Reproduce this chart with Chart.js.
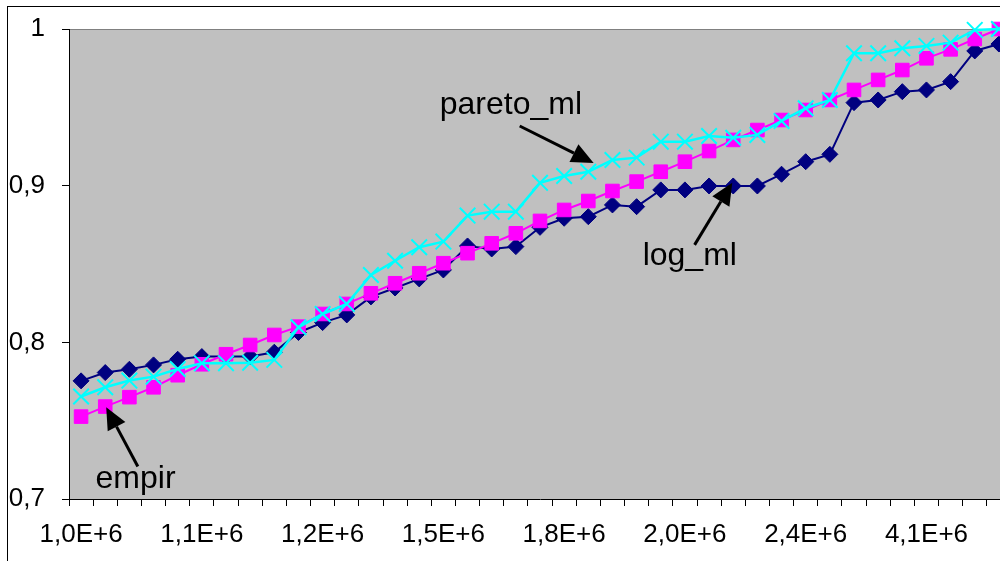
<!DOCTYPE html>
<html>
<head>
<meta charset="utf-8">
<script src="https://cdn.jsdelivr.net/npm/chart.js@4.4.1/dist/chart.umd.min.js"></script>
<style>
  html, body { margin: 0; padding: 0; background: #fff; overflow: hidden; }
  #wrap { position: relative; width: 1000px; height: 561px; overflow: hidden; }
  #frame { position: absolute; left: 7px; top: 6px; width: 1100px; height: 700px; border: 1px solid #000; }
  #chart { position: absolute; left: 0; top: 0; }
</style>
</head>
<body>
<div id="wrap">
  <div id="frame"></div>
  <canvas id="chart" width="1024" height="561"></canvas>
</div>
<script>
// x tick labels, one every 5 categories
const tickLabels = ['1,0E+6', '1,1E+6', '1,2E+6', '1,5E+6', '1,8E+6', '2,0E+6', '2,4E+6', '4,1E+6'];
const labelStep = 5;

const logMl = [0.7754, 0.7807, 0.7828, 0.7856, 0.7892, 0.7909, 0.7910, 0.7910, 0.7937, 0.8063,
  0.8126, 0.8175, 0.8290, 0.8347, 0.8405, 0.8462, 0.8615, 0.8596, 0.8611, 0.8734,
  0.8792, 0.8802, 0.8877, 0.8866, 0.8973, 0.8973, 0.8998, 0.8998, 0.8998, 0.9073,
  0.9153, 0.9200, 0.9530, 0.9547, 0.9600, 0.9611, 0.9664, 0.9860, 0.9904];

const empir = [0.7526, 0.7590, 0.7650, 0.7713, 0.7790, 0.7860, 0.7924, 0.7983, 0.8047, 0.8100,
  0.8181, 0.8245, 0.8313, 0.8377, 0.8441, 0.8505, 0.8569, 0.8632, 0.8696, 0.8775,
  0.8845, 0.8902, 0.8966, 0.9026, 0.9089, 0.9153, 0.9221, 0.9292, 0.9355, 0.9419,
  0.9483, 0.9547, 0.9611, 0.9675, 0.9738, 0.9813, 0.9870, 0.9936, 1.0000];

const paretoMl = [0.7654, 0.7713, 0.7756, 0.7781, 0.7830, 0.7867, 0.7867, 0.7870, 0.7888, 0.8096,
  0.8181, 0.8245, 0.8430, 0.8521, 0.8607, 0.8643, 0.8809, 0.8834, 0.8834, 0.9018,
  0.9062, 0.9089, 0.9164, 0.9179, 0.9281, 0.9281, 0.9317, 0.9306, 0.9324, 0.9413,
  0.9494, 0.9547, 0.9845, 0.9845, 0.9877, 0.9892, 0.9913, 0.9994, 1.0000];

const categories = empir.map((v, i) => i % labelStep === 0 ? (tickLabels[i / labelStep] || '') : '');

// annotations in data units: [category index, value]
const notes = [
  { text: 'pareto_ml', at: [14.85, 0.9458], from: [18.16, 0.9381], to: [21.22, 0.9145] },
  { text: 'log_ml', at: [23.25, 0.8494], from: [25.4, 0.8622], to: [26.96, 0.9019] },
  { text: 'empir', at: [0.6, 0.7071], from: [2.35, 0.7207], to: [1.04, 0.7586] }
];

const plotBg = {
  id: 'plotBg',
  beforeDraw(chart) {
    const { ctx, chartArea: a } = chart;
    ctx.save();
    ctx.fillStyle = '#c0c0c0';
    ctx.fillRect(a.left, a.top, a.right - a.left, a.bottom - a.top);
    ctx.strokeStyle = '#808080';
    ctx.lineWidth = 1;
    ctx.beginPath();
    ctx.moveTo(a.left, a.top + 0.5);
    ctx.lineTo(a.right, a.top + 0.5);
    ctx.stroke();
    ctx.restore();
  }
};

const arrows = {
  id: 'arrows',
  afterDatasetsDraw(chart) {
    const { ctx, scales } = chart;
    const px = p => [scales.x.getPixelForValue(p[0]), scales.y.getPixelForValue(p[1])];
    ctx.save();
    ctx.fillStyle = '#000';
    ctx.strokeStyle = '#000';
    ctx.font = '32px "Liberation Sans", Arial, sans-serif';
    ctx.textBaseline = 'alphabetic';
    notes.forEach(n => {
      const [tx, ty] = px(n.at);
      ctx.fillText(n.text, tx, ty);
      const [x1, y1] = px(n.from);
      const [x2, y2] = px(n.to);
      const ang = Math.atan2(y2 - y1, x2 - x1);
      const len = 22, half = 10;
      const bx = x2 - len * Math.cos(ang), by = y2 - len * Math.sin(ang);
      ctx.lineWidth = 3;
      ctx.beginPath();
      ctx.moveTo(x1, y1);
      ctx.lineTo(bx, by);
      ctx.stroke();
      ctx.beginPath();
      ctx.moveTo(x2, y2);
      ctx.lineTo(bx + half * Math.sin(ang), by - half * Math.cos(ang));
      ctx.lineTo(bx - half * Math.sin(ang), by + half * Math.cos(ang));
      ctx.closePath();
      ctx.fill();
    });
    ctx.restore();
  }
};

new Chart(document.getElementById('chart').getContext('2d'), {
  type: 'line',
  data: {
    labels: categories,
    datasets: [
      {
        label: 'pareto_ml', data: paretoMl,
        borderColor: '#00ffff', borderWidth: 2.5,
        pointStyle: 'crossRot', pointRadius: 11, pointBorderColor: '#00ffff', pointBorderWidth: 2,
        clip: false
      },
      {
        label: 'empir', data: empir,
        borderColor: '#ff00ff', borderWidth: 2,
        pointStyle: 'rect', pointRadius: 9.6, pointBackgroundColor: '#ff00ff', pointBorderColor: '#ff00ff', pointBorderWidth: 1,
        clip: false
      },
      {
        label: 'log_ml', data: logMl,
        borderColor: '#000080', borderWidth: 2,
        pointStyle: 'rectRot', pointRadius: 8, pointBackgroundColor: '#000080', pointBorderColor: '#000080', pointBorderWidth: 1,
        clip: false
      }
    ]
  },
  options: {
    responsive: false,
    devicePixelRatio: 1,
    animation: false,
    layout: { padding: { left: 0, top: 29, right: 13, bottom: 0 } },
    elements: { line: { tension: 0, fill: false } },
    plugins: { legend: { display: false }, tooltip: { enabled: false } },
    scales: {
      x: {
        offset: true,
        grid: { offset: true, drawOnChartArea: false, drawTicks: true, tickLength: 7, color: '#000' },
        border: { color: '#000', width: 1 },
        ticks: {
          autoSkip: false, maxRotation: 0, minRotation: 0, padding: 13, color: '#000',
          font: { family: '"Liberation Sans", Arial, sans-serif', size: 26 }
        },
        afterFit(s) { s.height = 62; }
      },
      y: {
        min: 0.7, max: 1,
        grid: { drawOnChartArea: false, drawTicks: true, tickLength: 7, color: '#000' },
        border: { color: '#000', width: 1 },
        ticks: {
          stepSize: 0.1, padding: 17, color: '#000',
          font: { family: '"Liberation Sans", Arial, sans-serif', size: 26, lineHeight: 0.8 },
          callback: v => String(Math.round(v * 10) / 10).replace('.', ',')
        },
        afterFit(s) { s.width = 69; }
      }
    }
  },
  plugins: [plotBg, arrows]
});
</script>
</body>
</html>
